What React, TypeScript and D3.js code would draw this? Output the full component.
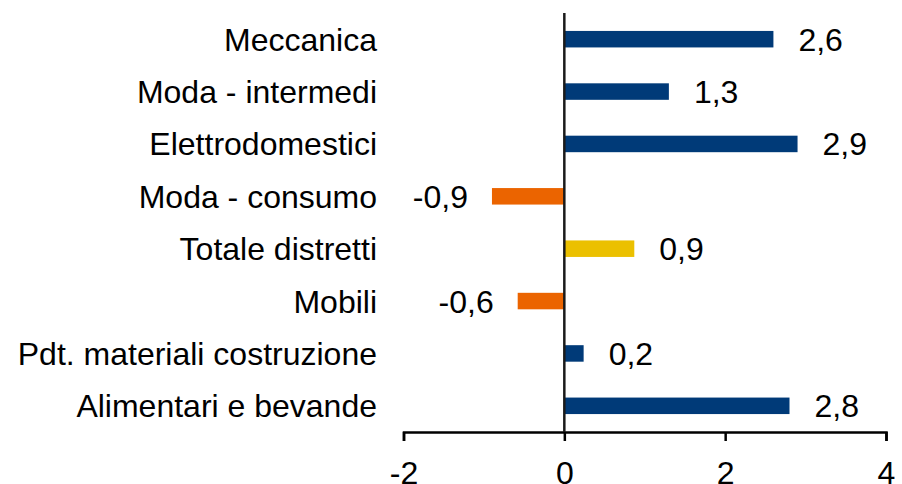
import { useEffect, useRef } from "react"
import * as d3 from "d3"

const categories = [
  "Meccanica",
  "Moda - intermedi",
  "Elettrodomestici",
  "Moda - consumo",
  "Totale distretti",
  "Mobili",
  "Pdt. materiali costruzione",
  "Alimentari e bevande",
]
const values = [2.6, 1.3, 2.9, -0.9, 0.87, -0.58, 0.24, 2.8]
const kinds = ["sector", "sector", "sector", "sector", "total", "sector", "sector", "sector"]
const xTicks = [-2, 0, 2, 4]

const BLUE = "#003a78"
const ORANGE = "#eb6400"
const YELLOW = "#ebc000"

export default function App() {
  const svgRef = useRef<SVGSVGElement>(null)

  useEffect(() => {
    if (!svgRef.current) return
    const width = 902
    const height = 484
    const svg = d3.select(svgRef.current)
    svg.selectAll("*").remove()
    svg.attr("width", width).attr("height", height)

    const font = "'Liberation Sans', Arial, sans-serif"
    const fontSize = 32

    const x = d3.scaleLinear().domain([-2, 4]).range([403.5, 886])
    const y = d3.scaleBand().domain(categories).range([13, 432]).padding(0)
    const barH = 16.5

    const rows = categories.map((c, i) => ({ cat: c, v: values[i], kind: kinds[i] }))

    // bars
    svg
      .append("g")
      .selectAll("rect")
      .data(rows)
      .enter()
      .append("rect")
      .attr("x", (d) => Math.min(x(0), x(d.v)))
      .attr("y", (d) => (y(d.cat) || 0) + y.bandwidth() / 2 - barH / 2)
      .attr("width", (d) => Math.abs(x(d.v) - x(0)))
      .attr("height", barH)
      .attr("fill", (d) => (d.kind === "total" ? YELLOW : d.v < 0 ? ORANGE : BLUE))

    // value labels (comma decimals, plain hyphen)
    const fmt = d3.format(".1f")
    svg
      .append("g")
      .selectAll("text")
      .data(rows)
      .enter()
      .append("text")
      .attr("x", (d) => (d.v < 0 ? x(d.v) - 24 : x(d.v) + 25))
      .attr("y", (d) => (y(d.cat) || 0) + y.bandwidth() / 2)
      .attr("dy", "0.36em")
      .attr("text-anchor", (d) => (d.v < 0 ? "end" : "start"))
      .style("font-family", font)
      .style("font-size", `${fontSize}px`)
      .style("fill", "#000")
      .text((d) => fmt(d.v).replace("\u2212", "-").replace(".", ","))

    // category labels
    svg
      .append("g")
      .selectAll("text")
      .data(categories)
      .enter()
      .append("text")
      .attr("x", 377)
      .attr("y", (d) => (y(d) || 0) + y.bandwidth() / 2)
      .attr("dy", "0.36em")
      .attr("text-anchor", "end")
      .style("font-family", font)
      .style("font-size", `${fontSize}px`)
      .style("fill", "#000")
      .text((d) => d)

    // x axis
    const xAxis = svg
      .append("g")
      .attr("transform", "translate(0,432)")
      .call(d3.axisBottom(x).tickValues(xTicks).tickSize(9).tickPadding(20).tickFormat((d) => String(d)))
    xAxis.select(".domain").attr("stroke", "#000").attr("stroke-width", 2.5)
    xAxis.selectAll(".tick line").attr("stroke", "#000").attr("stroke-width", 2.5)
    xAxis
      .selectAll(".tick text")
      .style("font-family", font)
      .style("font-size", `${fontSize}px`)
      .attr("fill", "#000")

    // vertical axis at zero
    svg
      .append("line")
      .attr("x1", x(0))
      .attr("x2", x(0))
      .attr("y1", 13)
      .attr("y2", 432)
      .attr("stroke", "#1a1a1a")
      .attr("stroke-width", 2.5)
  }, [])

  return (
    <svg ref={svgRef} style={{ position: "absolute", left: 0, top: 0, background: "#fff" }}></svg>
  )
}
